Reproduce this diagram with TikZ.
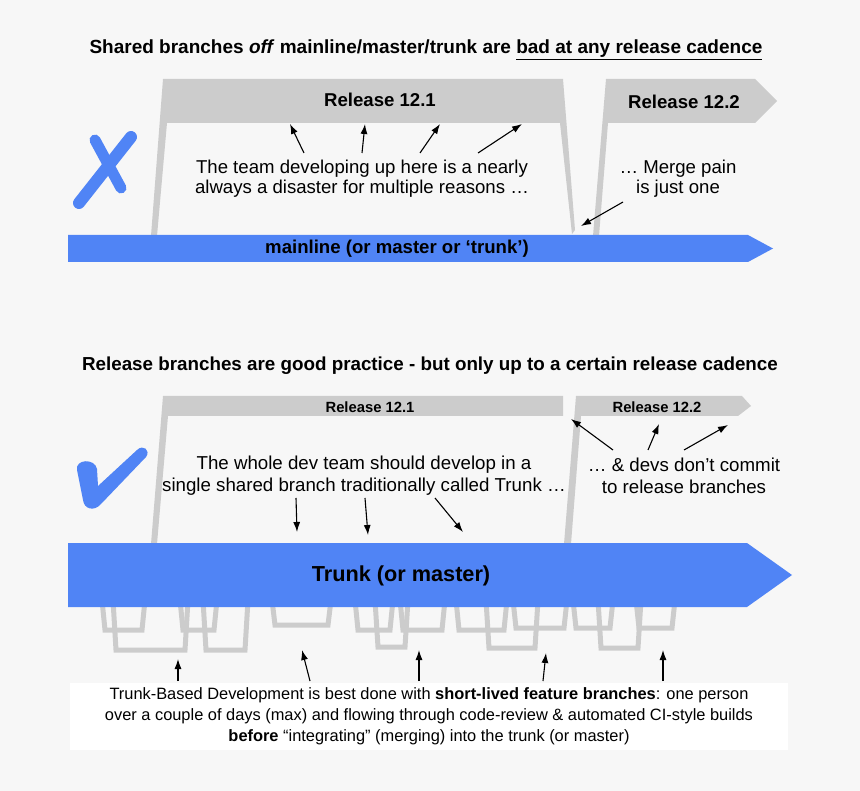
\documentclass[tikz,border=0pt]{standalone}
\usepackage{fontspec}
\setmainfont{Liberation Sans}
\usetikzlibrary{arrows.meta}
\definecolor{bg}{HTML}{F7F7F7}
\definecolor{tbblue}{RGB}{80,132,245}
\definecolor{relgray}{HTML}{CCCCCC}
\tikzset{
  relband/.style={fill=relgray, draw=none},
  bluebar/.style={fill=tbblue, draw=none},
  feat/.style={draw=relgray, line width=5pt, line join=miter},
  note/.style={align=center, font=\fontsize{18.6}{20}\selectfont, inner sep=0pt},
  ttl/.style={font=\bfseries\fontsize{19}{20}\selectfont, inner sep=0pt},
  lbl/.style={font=\bfseries\fontsize{18.6}{20}\selectfont, inner sep=0pt},
  ptr/.style={-{Latex[length=10pt,width=7pt]}, line width=1.1pt, black},
}
\begin{document}
\begin{tikzpicture}[x=1pt,y=-1pt]
\useasboundingbox (0,0) rectangle (860,791);
\fill[bg] (0,0) rectangle (860,791);

% ---------- top section ----------
\node[ttl] (title1) at (426,50) {Shared branches \textit{off} mainline/master/trunk are \underline{bad at any release cadence}};

\path[relband] (151,236) -- (163,79) -- (563,79) -- (575,230) -- (572,234) -- (560,123) -- (167,123) -- (157,236) -- cycle;
\path[relband] (593,236) -- (606,79) -- (755,79) -- (777,101) -- (755,123) -- (608,123) -- (599,236) -- cycle;
\path[bluebar] (68,235) -- (748,235) -- (773,248.5) -- (748,262) -- (68,262) -- cycle;

\node[lbl] (r121a) at (380,100) {Release 12.1};
\node[lbl] (r122a) at (684,102) {Release 12.2};
\node[lbl] (mainline) at (397,249) {mainline (or master or ‘trunk’)};

\draw[tbblue, line width=12pt, line cap=round] (79,203) -- (131,137);
\draw[tbblue, line width=11pt, line cap=round] (95,140) -- (121,188);

\node[note, font=\fontsize{18.6}{20}\selectfont] (team) at (362,179) {The team developing up here is a nearly\\always a disaster for multiple reasons …};
\node[note, font=\fontsize{18.6}{20}\selectfont] (merge) at (678,179) {… Merge pain\\is just one};

\coordinate (t1s) at (304,153); \coordinate (t1e) at (290,124);
\coordinate (t2s) at (362,153); \coordinate (t2e) at (365,124);
\coordinate (t3s) at (420,153); \coordinate (t3e) at (440,124);
\coordinate (t4s) at (478,153); \coordinate (t4e) at (522,124);
\coordinate (m1s) at (623,202); \coordinate (m1e) at (581,226);
\draw[ptr] (t1s) -- (t1e);
\draw[ptr] (t2s) -- (t2e);
\draw[ptr] (t3s) -- (t3e);
\draw[ptr] (t4s) -- (t4e);
\draw[ptr] (m1s) -- (m1e);

% ---------- middle section ----------
\node[ttl, font=\bfseries\fontsize{18.8}{20}\selectfont] (title2) at (430,366) {Release branches are good practice - but only up to a certain release cadence};

\path[relband] (151,544) -- (163,396) -- (563,396) -- (563,416) -- (168,416) -- (157,544) -- cycle;
\path[relband] (564,544) -- (576,396) -- (742,396) -- (751,406) -- (738,416) -- (581,416) -- (571,544) -- cycle;
\node[font=\bfseries\fontsize{14.8}{16}\selectfont, inner sep=0pt] (r121b) at (370,407) {Release 12.1};
\node[font=\bfseries\fontsize{14.8}{16}\selectfont, inner sep=0pt] (r122b) at (657,407) {Release 12.2};

\fill[tbblue] (77,470) .. controls (75,459) and (95,458) .. (97,469) -- (98,486) -- (137,450) .. controls (143,444) and (151,450) .. (146,457) -- (101,504) .. controls (94,512) and (84,509) .. (83,500) -- cycle;

\node[note, font=\fontsize{18.7}{22}\selectfont] (whole) at (364,476) {The whole dev team should develop in a\\single shared branch traditionally called Trunk …};
\node[note, font=\fontsize{18.7}{22}\selectfont] (devs) at (684,476) {… \& devs don’t commit\\to release branches};

\coordinate (w1s) at (296,498); \coordinate (w1e) at (297,532);
\coordinate (w2s) at (365,498); \coordinate (w2e) at (368,535);
\coordinate (w3s) at (435,498); \coordinate (w3e) at (463,532);
\coordinate (d1s) at (613,450); \coordinate (d1e) at (571,419);
\coordinate (d2s) at (648,450); \coordinate (d2e) at (659,424);
\coordinate (d3s) at (684,450); \coordinate (d3e) at (728,425);
\draw[ptr] (w1s) -- (w1e);
\draw[ptr] (w2s) -- (w2e);
\draw[ptr] (w3s) -- (w3e);
\draw[ptr] (d1s) -- (d1e);
\draw[ptr] (d2s) -- (d2e);
\draw[ptr] (d3s) -- (d3e);

% feature branches
\foreach \a/\b/\c in {102/145/630, 113/188/650, 180/217/630, 203/248/650, 272/331/625,
  355/393/630, 375/408/647, 400/445/630, 456/507/630, 486/538/648, 513/567/628,
  573/613/628, 598/641/648, 636/675/628}{
  \draw[feat] (\a,600) -- (\a+3,\c) -- (\b-3,\c) -- (\b,600);
}

\path[bluebar] (68,543) -- (747,543) -- (792,575) -- (747,607) -- (68,607) -- cycle;
\node[font=\bfseries\fontsize{21.7}{24}\selectfont, inner sep=0pt] (trunk) at (401,576) {Trunk (or master)};

% bottom box
\fill[white] (70,683) rectangle (788,750);
\node[note, font=\fontsize{16.4}{21}\selectfont] (tbd) at (429,716) {Trunk-Based Development is best done with \textbf{short-lived feature branches}: one person\\over a couple of days (max) and flowing through code-review \& automated CI-style builds\\\textbf{before} “integrating” (merging) into the trunk (or master)};

\coordinate (f1s) at (178,681); \coordinate (f1e) at (178,659);
\coordinate (f2s) at (310,681); \coordinate (f2e) at (302,650);
\coordinate (f3s) at (419,681); \coordinate (f3e) at (419,650);
\coordinate (f4s) at (543,681); \coordinate (f4e) at (546,653);
\coordinate (f5s) at (663,681); \coordinate (f5e) at (663,650);
\draw[ptr] (f1s) -- (f1e);
\draw[ptr] (f2s) -- (f2e);
\draw[ptr] (f3s) -- (f3e);
\draw[ptr] (f4s) -- (f4e);
\draw[ptr] (f5s) -- (f5e);
\end{tikzpicture}
\end{document}
